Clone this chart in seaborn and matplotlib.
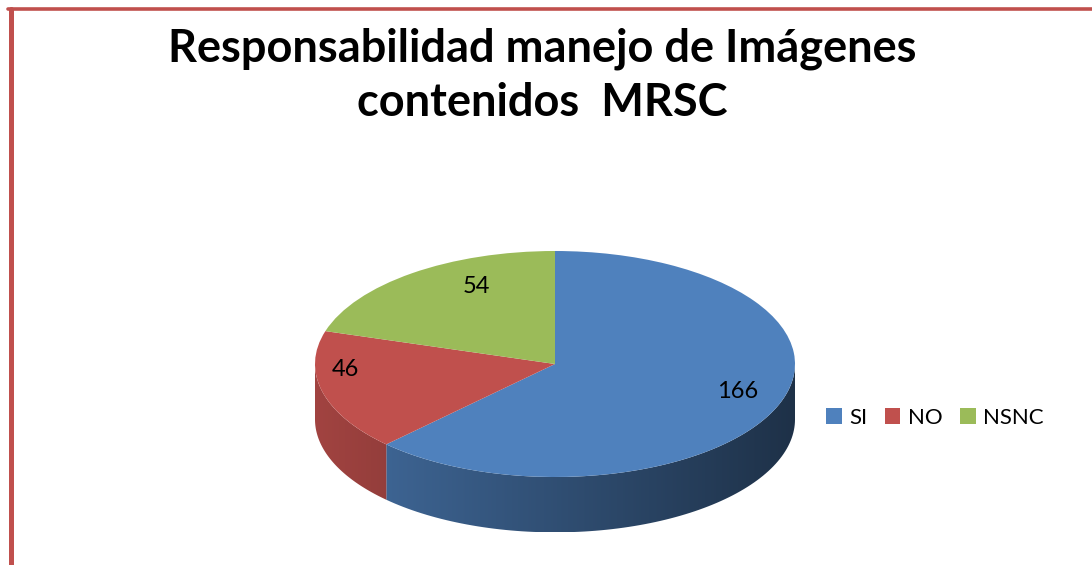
import numpy as np
import matplotlib
matplotlib.use("Agg")
import matplotlib.pyplot as plt
import seaborn as sns
from matplotlib.patches import Polygon, Patch
from matplotlib.colors import LinearSegmentedColormap, to_rgb

categories = ["SI", "NO", "NSNC"]
values = [166, 46, 54]
colors = ["#4F81BD", "#C0504D", "#9BBB59"]
title = "Responsabilidad manejo de Imágenes\ncontenidos  MRSC"

sns.set_theme(style="white")
plt.rcParams["font.family"] = ["Lato", "DejaVu Sans"]

fig = plt.figure(figsize=(10.92, 5.65), dpi=100)
fig.patch.set_facecolor("white")

# pie axes: 1 unit = 240 px horizontally, 113 px vertically
ax = fig.add_axes([267 / 1092, 20.2 / 565, 576 / 1092, 316.4 / 565])
wedges, _ = ax.pie(values, colors=sns.color_palette(colors), startangle=90,
                   counterclock=False, wedgeprops=dict(linewidth=0, zorder=2))
ax.set_aspect("auto")
ax.axis("off")

# side walls of the 3D pie, shaded light (left) to dark (right)
depth = 0.49
grad = np.linspace(0, 1, 256)[None, :]
for w, c in zip(wedges, colors):
    t1, t2 = w.theta1, w.theta2
    base = np.array(to_rgb(c))
    cmap = LinearSegmentedColormap.from_list("side", [base * 0.84, base * 0.38])
    for k in (-1, 0, 1):
        lo = max(t1, 180 + 360 * k)
        hi = min(t2, 360 + 360 * k)
        if hi <= lo:
            continue
        t = np.radians(np.linspace(lo, hi, 100))
        top = np.column_stack([np.cos(t), np.sin(t)])
        bot = np.column_stack([np.cos(t[::-1]), np.sin(t[::-1]) - depth])
        poly = Polygon(np.vstack([top, bot]), closed=True, fill=False, linewidth=0)
        ax.add_patch(poly)
        im = ax.imshow(grad, cmap=cmap, extent=(-1, 1, -1 - depth, 0),
                       aspect="auto", zorder=1)
        im.set_clip_path(poly)
ax.set_xlim(-1.2, 1.2)
ax.set_ylim(-1.6, 1.2)

# value labels
label_r = [0.8, 0.92, 0.72]
label_shift = [(0.02, 0.06), (0.02, 0.18), (0.10, 0.11)]
for w, v, r, (dx, dy) in zip(wedges, values, label_r, label_shift):
    mid = np.radians((w.theta1 + w.theta2) / 2)
    ax.text(r * np.cos(mid) + dx, r * np.sin(mid) + dy, str(v), ha="center",
            va="center", fontsize=17, color="black", zorder=3)

fig.text(0.497, 0.866, title, ha="center", va="center", fontsize=32.5,
         fontweight="bold", linespacing=1.37, color="black")

handles = [Patch(facecolor=c, edgecolor="none") for c in colors]
leg = fig.legend(handles, categories, loc="center left",
                 bbox_to_anchor=(826 / 1092, 1 - 418 / 565), ncol=3, frameon=False,
                 fontsize=16, handlelength=0.7, handleheight=0.7, handletextpad=0.35,
                 columnspacing=0.78, borderpad=0, borderaxespad=0)
for txt in leg.get_texts():
    txt.set_color("black")

# chart border (left and top)
fig.add_artist(plt.Line2D([10.5 / 1092, 10.5 / 1092], [0, 1 - 8.5 / 565],
                          color="#C0504D", linewidth=3.6))
fig.add_artist(plt.Line2D([8 / 1092, 1], [1 - 8.5 / 565, 1 - 8.5 / 565],
                          color="#C0504D", linewidth=2.6))

fig.savefig("out.png", dpi=100, facecolor="white")
